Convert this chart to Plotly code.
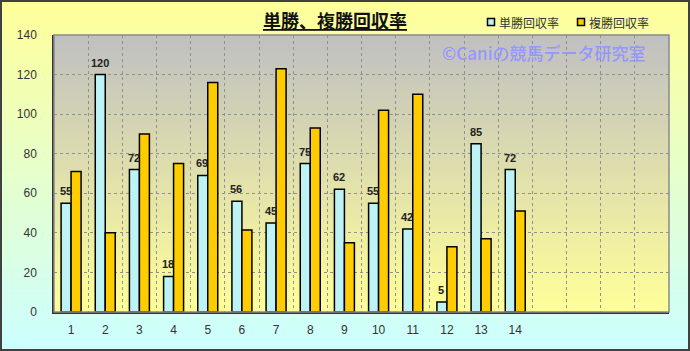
import plotly.graph_objects as go

races = list(range(1, 15))
tick_labels = [str(r) for r in races]
tansho = [55, 120, 72, 18, 69, 56, 45, 75, 62, 55, 42, 5, 85, 72]
fukusho = [71, 40, 90, 75, 116, 41.5, 123, 93, 35, 102, 110, 33, 37, 51]
series_names = ["単勝回収率", "複勝回収率"]
title_text = "単勝、複勝回収率"
watermark = "©Caniの競馬データ研究室"

W, H = 690, 351
ML, MR, MT, MB = 54, 21, 35, 39
PW, PH = W - ML - MR, H - MT - MB

def px_x(p):
    return (p - ML) / PW

def px_y(p):
    return (H - MB - p) / PH

def lerp(c1, c2, t):
    return "rgb(%d,%d,%d)" % tuple(round(a + (b - a) * t) for a, b in zip(c1, c2))

shapes = []
# page gradient
n = 90
for i in range(n):
    y0p = i * H / n
    y1p = (i + 1) * H / n + 1
    shapes.append(dict(type="rect", xref="paper", yref="paper",
                       x0=px_x(0), x1=px_x(W), y0=px_y(y1p), y1=px_y(y0p),
                       fillcolor=lerp((255, 255, 153), (204, 255, 255), i / (n - 1)),
                       line=dict(width=0), layer="below"))
# plot-area gradient
n2 = 70
for i in range(n2):
    y0p = MT + i * PH / n2
    y1p = min(MT + (i + 1) * PH / n2 + 1, MT + PH)
    shapes.append(dict(type="rect", xref="paper", yref="paper",
                       x0=0, x1=1, y0=px_y(y1p), y1=px_y(y0p),
                       fillcolor=lerp((192, 192, 192), (255, 255, 153), i / (n2 - 1)),
                       line=dict(width=0), layer="below"))
# plot border
shapes.append(dict(type="rect", xref="paper", yref="paper", x0=0, x1=1, y0=0, y1=1,
                   line=dict(color="#8a8a8a", width=1.5), layer="above"))
# legend squares
for cx, col in [(491, "#BDF3F5"), (581, "#FFCC00")]:
    shapes.append(dict(type="rect", xref="paper", yref="paper",
                       x0=px_x(cx - 3.5), x1=px_x(cx + 3.5), y0=px_y(25.5), y1=px_y(18.5),
                       fillcolor=col, line=dict(color="#000", width=1.5), layer="above"))
# outer frame
shapes.append(dict(type="rect", xref="paper", yref="paper",
                   x0=px_x(1), x1=px_x(W - 1), y0=px_y(H - 1), y1=px_y(1),
                   line=dict(color="#404040", width=2), layer="above"))

fig = go.Figure()
fig.add_trace(go.Bar(x=races, y=tansho, name=series_names[0],
                     marker=dict(color="#BDF3F5", line=dict(color="#000", width=1.5)),
                     showlegend=False))
fig.add_trace(go.Bar(x=races, y=fukusho, name=series_names[1],
                     marker=dict(color="#FFCC00", line=dict(color="#000", width=1.5)),
                     showlegend=False))

annotations = [
    dict(text="<b><u>" + title_text + "</u></b>", x=px_x(335), y=px_y(20), xref="paper", yref="paper",
         showarrow=False, xanchor="center", yanchor="middle",
         font=dict(family="Noto Sans CJK JP", size=18, color="#111")),
    dict(text=series_names[0], x=px_x(497), y=px_y(22), xref="paper", yref="paper",
         showarrow=False, xanchor="left", yanchor="middle",
         font=dict(family="Noto Sans CJK JP", size=12, color="#333")),
    dict(text=series_names[1], x=px_x(587), y=px_y(22), xref="paper", yref="paper",
         showarrow=False, xanchor="left", yanchor="middle",
         font=dict(family="Noto Sans CJK JP", size=12, color="#333")),
    dict(text=watermark, x=px_x(648), y=px_y(52), xref="paper", yref="paper",
         showarrow=False, xanchor="right", yanchor="middle",
         font=dict(family="Noto Sans CJK JP", size=17, color="rgb(150,150,255)", weight=500)),
]
# value labels above the 単勝 bars
for r, v in zip(races, tansho):
    annotations.append(dict(text="<b>%d</b>" % v, x=r, y=v, xref="x", yref="y",
                            xshift=-5.5, yshift=12, showarrow=False,
                            xanchor="center", yanchor="middle",
                            font=dict(family="Liberation Sans", size=11, color="#222")))

fig.update_layout(
    width=W, height=H,
    margin=dict(l=ML, r=MR, t=MT, b=MB, pad=0),
    paper_bgcolor="rgba(0,0,0,0)", plot_bgcolor="rgba(0,0,0,0)",
    barmode="group", bargap=0.415, bargroupgap=0,
    shapes=shapes, annotations=annotations, showlegend=False,
    xaxis=dict(range=[0.5, 18.5], tickvals=races, ticktext=tick_labels,
               showgrid=False, zeroline=False, showline=True, linecolor="#333", linewidth=1.5,
               ticks="outside", ticklen=6, tickcolor="rgba(0,0,0,0)",
               tickfont=dict(family="Liberation Sans", size=12, color="#333"),
               minor=dict(tickvals=[k + 0.5 for k in range(1, 18)], showgrid=True,
                          gridcolor="#909090", griddash="dot", gridwidth=1, ticks="")),
    yaxis=dict(range=[0, 140], tickvals=list(range(0, 141, 20)),
               showgrid=True, gridcolor="#909090", griddash="dot", gridwidth=1,
               zeroline=False, showline=True, linecolor="#333", linewidth=1.5,
               ticks="outside", ticklen=13, tickcolor="rgba(0,0,0,0)",
               tickfont=dict(family="Liberation Sans", size=12, color="#333")),
)

fig.write_html("out.html")
